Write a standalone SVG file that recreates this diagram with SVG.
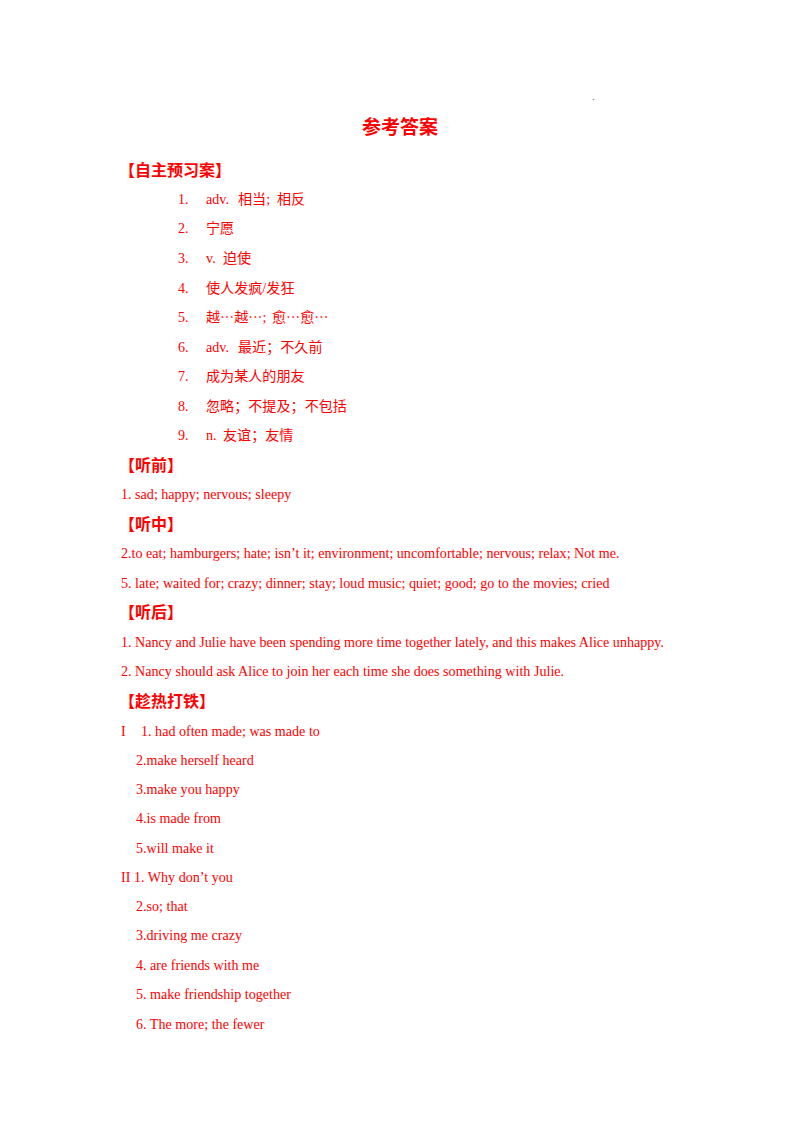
<svg xmlns="http://www.w3.org/2000/svg" width="800" height="1132" viewBox="0 0 800 1132">
<style>
.t{font-family:"Liberation Serif","Noto Sans CJK SC",serif;font-size:14.1px;fill:#ff0000}
.c{font-family:"Noto Sans CJK SC",sans-serif}
.h{font-family:"Noto Sans CJK SC","Liberation Sans",sans-serif;font-size:16px;font-weight:bold;fill:#ff0000}
.title{font-family:"Noto Sans CJK SC","Liberation Sans",sans-serif;font-size:19px;font-weight:bold;fill:#ff0000}
</style>
<rect width="800" height="1132" fill="#ffffff"/>
<circle cx="593.5" cy="99.5" r="0.8" fill="#888888"/>
<g id="title"><text class="title" x="400" y="134" text-anchor="middle">参考答案</text></g>
<g id="sec1">
<text class="h" x="119" y="176">【自主预习案】</text>
<text class="t" x="178" y="204">1.</text><text class="t" x="206" y="204">adv.<tspan x="238">相当;</tspan><tspan x="277">相反</tspan></text>
<text class="t" x="178" y="233">2.</text><text class="t" x="206" y="233">宁愿</text>
<text class="t" x="178" y="263">3.</text><text class="t" x="206" y="263">v.<tspan x="223">迫使</tspan></text>
<text class="t" x="178" y="293">4.</text><text class="t" x="206" y="293">使人发疯/发狂</text>
<text class="t" x="178" y="322">5.</text><text class="t" x="206" y="322">越<tspan class="c">⋯</tspan>越<tspan class="c">⋯</tspan>;<tspan x="272">愈</tspan><tspan class="c">⋯</tspan>愈<tspan class="c">⋯</tspan></text>
<text class="t" x="178" y="352">6.</text><text class="t" x="206" y="352">adv.<tspan x="238">最近；不久前</tspan></text>
<text class="t" x="178" y="381">7.</text><text class="t" x="206" y="381">成为某人的朋友</text>
<text class="t" x="178" y="411">8.</text><text class="t" x="206" y="411">忽略；不提及；不包括</text>
<text class="t" x="178" y="440">9.</text><text class="t" x="206" y="440">n.<tspan x="223">友谊；友情</tspan></text>
</g>
<g id="sec2">
<text class="h" x="119" y="471">【听前】</text>
<text class="t" x="121" y="499">1. sad; happy; nervous; sleepy</text>
</g>
<g id="sec3">
<text class="h" x="119" y="530">【听中】</text>
<text class="t" x="121" y="558">2.to eat; hamburgers; hate; isn’t it; environment; uncomfortable; nervous; relax; Not me.</text>
<text class="t" x="121" y="588">5. late; waited for; crazy; dinner; stay; loud music; quiet; good; go to the movies; cried</text>
</g>
<g id="sec4">
<text class="h" x="119" y="618">【听后】</text>
<text class="t" x="121" y="647">1. Nancy and Julie have been spending more time together lately, and this makes Alice unhappy.</text>
<text class="t" x="121" y="676">2. Nancy should ask Alice to join her each time she does something with Julie.</text>
</g>
<g id="sec5">
<text class="h" x="119" y="707">【趁热打铁】</text>
<text class="t" x="121" y="736">I</text><text class="t" x="141" y="736">1. had often made; was made to</text>
<text class="t" x="136" y="765">2.make herself heard</text>
<text class="t" x="136" y="794">3.make you happy</text>
<text class="t" x="136" y="823">4.is made from</text>
<text class="t" x="136" y="853">5.will make it</text>
<text class="t" x="121" y="882">II 1. Why don’t you</text>
<text class="t" x="136" y="911">2.so; that</text>
<text class="t" x="136" y="940">3.driving me crazy</text>
<text class="t" x="136" y="970">4. are friends with me</text>
<text class="t" x="136" y="999">5. make friendship together</text>
<text class="t" x="136" y="1029">6. The more; the fewer</text>
</g>
</svg>
